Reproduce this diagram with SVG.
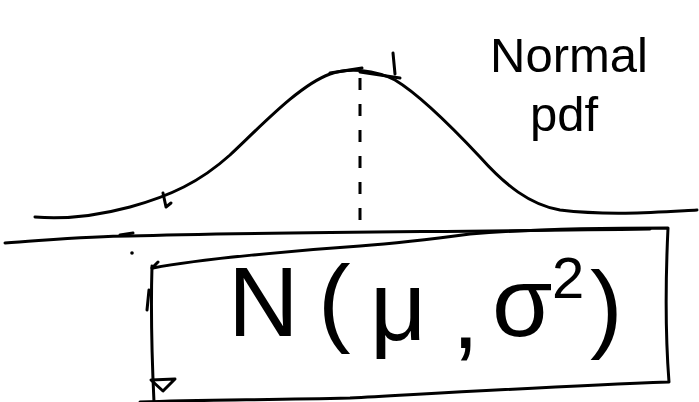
<svg xmlns="http://www.w3.org/2000/svg" width="699" height="402" viewBox="0 0 699 402">
<style>
.ink{fill:none;stroke:#000;stroke-width:3;stroke-linecap:round;stroke-linejoin:round}
.dash{fill:none;stroke:#000;stroke-width:3;stroke-dasharray:12 14}
.t{font-family:"Liberation Sans",Arial,sans-serif;fill:#000}
</style>
<rect width="699" height="402" fill="#fff"/>
<g id="curve">
<path class="ink" d="M35,217 C70,220 100,215 130,207 C170,196 200,182 230,155 C265,122 300,85 330,74 C350,67 375,70 395,80 C420,95 450,125 480,157 C505,185 530,205 560,210 C610,216 660,212 697,210"/>
<path class="ink" d="M330,73 L362,68 M360,72 L400,78"/>
<path class="ink" d="M393,53 L395,74"/>
<path class="ink" d="M163,193 L166,207 L171,203"/>
</g>
<g id="mean-line">
<path class="dash" d="M360,78 L360,232"/>
</g>
<g id="axis">
<path class="ink" d="M5,243 C50,240 90,236 130,236 C250,232 450,232 650,229"/>
<path class="ink" d="M120,235 L133,233"/>
<circle cx="132" cy="253" r="1.8" fill="#000"/>
</g>
<g id="box">
<path class="ink" d="M152,268 L158,262 M153,268 C200,259 300,250 360,246 C400,243 440,238 470,234 C530,229 600,228 668,228 C666,270 665,330 669,382 C560,386 460,392 350,398 C260,400 200,400 140,402"/>
<path class="ink" d="M152,266 C151,300 152,360 154,402"/>
<path class="ink" d="M147,310 L149,290"/>
<path class="ink" d="M151,380 L175,379 L163,391 Z"/>
<text class="t" font-size="98"><tspan x="228" y="336">N</tspan><tspan x="318" y="334">(</tspan><tspan x="370" y="340">μ</tspan><tspan x="452" y="348">,</tspan><tspan x="492" y="336">σ</tspan><tspan x="552" y="298" font-size="58">2</tspan><tspan x="590" y="340">)</tspan></text>
</g>
<g id="label">
<text class="t" font-size="49" x="490" y="72">Normal</text>
<text class="t" font-size="49" x="530" y="131">pdf</text>
</g>
</svg>
